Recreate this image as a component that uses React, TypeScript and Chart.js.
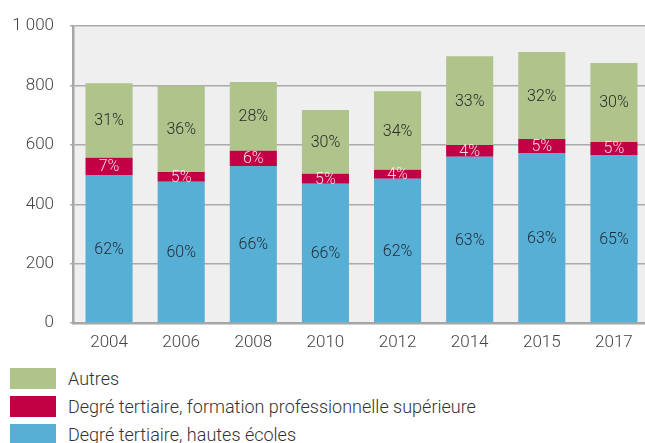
import React, { useEffect, useRef } from 'react';
import { Chart, registerables } from 'chart.js';

Chart.register(...registerables);

const years = ['2004', '2006', '2008', '2010', '2012', '2014', '2015', '2017'];
const hautesEcoles = [499, 476, 529, 469, 486, 560, 573, 566];
const formationPro = [58, 33, 51, 34, 30, 40, 47, 44];
const autres = [251, 290, 232, 215, 265, 299, 293, 266];
const pctHautesEcoles = ['62%', '60%', '66%', '66%', '62%', '63%', '63%', '65%'];
const pctFormationPro = ['7%', '5%', '6%', '5%', '4%', '4%', '5%', '5%'];
const pctAutres = ['31%', '36%', '28%', '30%', '34%', '33%', '32%', '30%'];
const seriesNames = [
  'Degré tertiaire, hautes écoles',
  'Degré tertiaire, formation professionnelle supérieure',
  'Autres',
];
const yMin = 0;
const yMax = 1000;
const yStep = 200;

const COLORS = ['#58afd6', '#c10045', '#aec48b'];
const LABEL_COLORS = ['#1f2a33', 'rgba(255,235,242,0.92)', '#2a2a2a'];
const FONT = 'Roboto, "Noto Sans", "DejaVu Sans", sans-serif';

const fmt = (v: number) => String(v).replace(/\B(?=(\d{3})+(?!\d))/g, ' ');

const bgPlugin = {
  id: 'plotBg',
  beforeDraw(chart: any) {
    const { ctx, chartArea } = chart;
    ctx.save();
    ctx.fillStyle = '#efefef';
    ctx.fillRect(chartArea.left, chartArea.top, chartArea.right - chartArea.left, chartArea.bottom - chartArea.top);
    ctx.restore();
  },
};

const labelPlugin = {
  id: 'segLabels',
  afterDatasetsDraw(chart: any) {
    const { ctx } = chart;
    const labelSets = [pctHautesEcoles, pctFormationPro, pctAutres];
    ctx.save();
    ctx.font = `300 16px ${FONT}`;
    ctx.textAlign = 'center';
    ctx.textBaseline = 'middle';
    chart.data.datasets.forEach((_ds: any, di: number) => {
      const meta = chart.getDatasetMeta(di);
      meta.data.forEach((el: any, i: number) => {
        const y = (el.y + el.base) / 2;
        ctx.fillStyle = LABEL_COLORS[di];
        ctx.fillText(labelSets[di][i], el.x, y + 1);
      });
    });
    ctx.restore();
  },
};

function StackedChart() {
  const ref = useRef<HTMLCanvasElement | null>(null);
  useEffect(() => {
    if (!ref.current) return;
    const chart = new Chart(ref.current, {
      type: 'bar',
      data: {
        labels: years,
        datasets: [
          { label: seriesNames[0], data: hautesEcoles, backgroundColor: COLORS[0] },
          { label: seriesNames[1], data: formationPro, backgroundColor: COLORS[1] },
          { label: seriesNames[2], data: autres, backgroundColor: COLORS[2] },
        ],
      },
      options: {
        animation: false,
        responsive: false,
        maintainAspectRatio: false,
        devicePixelRatio: 1,
        layout: { padding: { top: 24, left: 0, right: 0, bottom: 0 } },
        plugins: {
          legend: { display: false },
          tooltip: { enabled: false },
        },
        datasets: {
          bar: { barPercentage: 0.653, categoryPercentage: 1 },
        },
        scales: {
          x: {
            stacked: true,
            offset: true,
            grid: { display: false, drawTicks: false },
            border: { display: true, color: '#a6a6a6', width: 2.5 },
            ticks: {
              color: '#444444',
              font: { family: FONT, size: 17, weight: '300' },
              padding: 10,
              maxRotation: 0,
            },
            afterFit: (scale: any) => {
              scale.height = 37;
            },
          },
          y: {
            stacked: true,
            min: yMin,
            max: yMax,
            ticks: {
              stepSize: yStep,
              color: '#444444',
              font: { family: FONT, size: 17, weight: '300' },
              padding: 16,
              callback: (v: any) => fmt(Number(v)),
            },
            grid: { color: '#ababab', lineWidth: 1.5, tickLength: 3, tickColor: '#ababab' },
            border: { display: true, color: '#a6a6a6', width: 2.5 },
            afterFit: (scale: any) => {
              scale.width = 73;
            },
          },
        },
      },
      plugins: [bgPlugin, labelPlugin],
    });
    return () => chart.destroy();
  }, []);
  return <canvas ref={ref} width={650} height={360} style={{ display: 'block', width: 650, height: 360 }} />;
}

function Legend() {
  const items = [
    { name: seriesNames[2], color: COLORS[2] },
    { name: seriesNames[1], color: COLORS[1] },
    { name: seriesNames[0], color: COLORS[0] },
  ];
  return (
    <div style={{ position: 'absolute', left: 10, top: 364 }}>
      {items.map((it) => (
        <div key={it.name} style={{ display: 'flex', alignItems: 'center', height: 28.3 }}>
          <div style={{ width: 46, height: 21, background: it.color, marginRight: 12, flex: 'none' }} />
          <span style={{ fontFamily: FONT, fontWeight: 300, fontSize: 18, color: '#333333', whiteSpace: 'nowrap', lineHeight: '21px' }}>
            {it.name}
          </span>
        </div>
      ))}
    </div>
  );
}

export default function App() {
  return (
    <div style={{ position: 'fixed', left: 0, top: 0, width: 645, height: 443, overflow: 'hidden', background: '#ffffff' }}>
      <StackedChart />
      <Legend />
    </div>
  );
}
